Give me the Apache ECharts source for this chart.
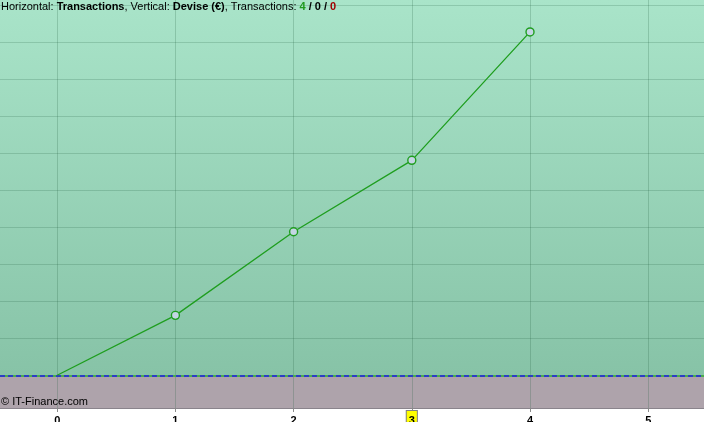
<!DOCTYPE html>
<html>
<head>
<meta charset="utf-8">
<script src="https://cdn.jsdelivr.net/npm/echarts@6/dist/echarts.min.js"></script>
<style>
html,body{margin:0;padding:0;background:#fff;}
#chart{width:704px;height:422px;}
</style>
</head>
<body>
<div id="chart"></div>
<script>
// Data
const transactions = [0, 1, 2, 3, 4];
const devise = [0, 162, 388, 581, 928];
const xTickLabels = [0, 1, 2, 3, 4, 5];
const yGridValues = [0, 100, 200, 300, 400, 500, 600, 700, 800, 900, 1000];
const highlightedTick = 3;

const points = transactions.map((t, i) => {
  const item = { value: [t, devise[i]] };
  if (i === 0) item.symbol = 'none';
  return item;
});

const chart = echarts.init(document.getElementById('chart'), null, { renderer: 'canvas' });
const FONT = '"Liberation Sans", Arial, sans-serif';

chart.setOption({
  animation: false,
  title: {
    left: 1, top: 1, padding: 0,
    text: '{n|Horizontal: }{b|Transactions}{n|, Vertical: }{b|Devise (€)}{n|, Transactions: }{g|4}{b| / 0 / }{r|0}',
    textStyle: {
      fontFamily: FONT, fontSize: 11, fontWeight: 'normal',
      rich: {
        n: { fontFamily: FONT, fontSize: 11, color: '#000', fontWeight: 'normal' },
        b: { fontFamily: FONT, fontSize: 11, color: '#000', fontWeight: 'bold' },
        g: { fontFamily: FONT, fontSize: 11, color: '#1e9a1e', fontWeight: 'bold' },
        r: { fontFamily: FONT, fontSize: 11, color: '#a00000', fontWeight: 'bold' }
      }
    }
  },
  graphic: [{
    type: 'text', left: 1, top: 396, z: 100,
    style: { text: '© IT-Finance.com', fontFamily: FONT, fontSize: 11, fill: '#000' }
  }],
  grid: {
    left: 0, right: 0, top: 0, bottom: 14,
    outerBoundsMode: 'none', containLabel: false,
    show: true, borderWidth: 0,
    backgroundColor: {
      type: 'linear', x: 0, y: 0, x2: 0, y2: 1,
      colorStops: [
        { offset: 0, color: '#a9e4c9' },
        { offset: 0.9199, color: '#87c3a7' },
        { offset: 0.9199, color: '#aea3ab' },
        { offset: 1, color: '#aea3ab' }
      ]
    }
  },
  xAxis: {
    type: 'value',
    min: -0.484, max: 5.472,
    axisLine: { show: true, onZero: false, lineStyle: { color: '#8a848c', width: 1 } },
    axisTick: { show: true, length: 4, customValues: xTickLabels, lineStyle: { color: '#8a8a8a' } },
    axisLabel: {
      customValues: xTickLabels, margin: 3,
      fontFamily: FONT, fontSize: 11, fontWeight: 'bold', color: '#000',
      formatter: v => (v === highlightedTick ? '{h|' + v + '}' : '{p|' + v + '}'),
      rich: {
        p: { fontFamily: FONT, fontSize: 11, fontWeight: 'bold', color: '#000',
             padding: [4, 2, 0, 2] },
        h: { fontFamily: FONT, fontSize: 11, fontWeight: 'bold', color: '#000',
             backgroundColor: '#ffff00', borderColor: '#808080', borderWidth: 1, padding: [4, 2, 0, 2] }
      }
    },
    splitLine: { show: true, lineStyle: { color: 'rgba(30,90,60,0.22)', width: 1 } }
  },
  yAxis: {
    type: 'value',
    min: -88.4, max: 1014.3,
    axisLine: { show: false },
    axisTick: { show: false, customValues: yGridValues },
    axisLabel: { show: false, customValues: yGridValues },
    splitLine: { show: true, lineStyle: { color: 'rgba(30,90,60,0.2)', width: 1 } }
  },
  series: [{
    type: 'line',
    data: points,
    symbol: 'circle',
    symbolSize: 8,
    showAllSymbol: true,
    lineStyle: { color: '#1f9e1f', width: 1.3 },
    itemStyle: { color: '#c4d6e4', borderColor: '#1f9e1f', borderWidth: 1.4 },
    markLine: {
      silent: true, symbol: 'none', label: { show: false },
      data: [
        { yAxis: 0, lineStyle: { color: '#4cae4c', width: 2, type: 'solid' } },
        { yAxis: 0, lineStyle: { color: '#2b3fc4', width: 2, type: [5, 3] } }
      ]
    },
    z: 5
  }]
});
</script>
</body>
</html>
